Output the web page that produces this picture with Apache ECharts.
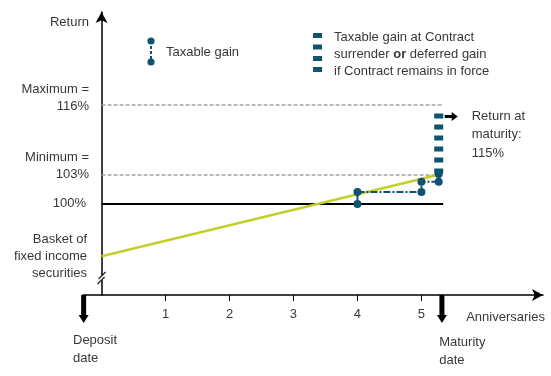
<!DOCTYPE html>
<html><head><meta charset="utf-8">
<script src="https://cdn.jsdelivr.net/npm/echarts@6/dist/echarts.min.js"></script>
<style>html,body{margin:0;padding:0;background:#fff}#c{width:551px;height:376px}</style>
</head><body><div id="c"></div>
<script>
// ---- data ----
const anniversaryTicks = [1, 2, 3, 4, 5];
const levelMax = 116;          // Maximum = 116%
const levelMin = 103;          // Minimum = 103%
const levelBase = 100;         // 100%
const returnAtMaturity = 115;  // Return at maturity: 115%
const depositYear = -0.29;
const maturityYear = 5.34;
const basketLine = [[0, 94.6], [5.28, 103.1]];
const gainYear4 = [[4, 100], [4, 101.25]];
const carryYear4to5 = [[4, 101.25], [5, 101.25]];
const gainYear5 = [[5, 101.25], [5, 102.3]];
const carryYear5toMat = [[5, 102.3], [5.27, 102.3]];
const gainAtMat = [[5.27, 102.3], [5.27, 103.2]];
const deferredColumn = [[5.27, returnAtMaturity], [5.27, 103.2]];

// ---- style ----
const FONT = 'Liberation Sans';
const TXT = '#383838';
const TEAL = '#0e5470';
const GREEN = '#c3d02c';
const GREY = '#a3a3a3';
const Y_MIN = 90.59, Y_MAX = 119.86, X_MAX = 6.9;

// schematic (compressed) scale above the minimum level
function pos(v) { return v <= 103 ? v : 103 + (v - 103) * 7.24 / 13; }
const mapPts = pts => pts.map(p => [p[0], pos(p[1])]);

const chart = echarts.init(document.getElementById('c'), null, {renderer: 'canvas'});

function seg(data, lineStyle, opts) {
  return Object.assign({
    type: 'line', data: mapPts(data), symbol: 'none', symbolSize: 8,
    lineStyle: lineStyle, itemStyle: {color: TEAL}, silent: true, animation: false, z: 3
  }, opts || {});
}

const option = {
  animation: false,
  grid: {left: 83, right: 8, top: 12, bottom: 81, containLabel: false},
  xAxis: {
    type: 'value', min: depositYear, max: X_MAX,
    axisLine: {show: true, onZero: false, symbol: ['none', 'arrow'], symbolSize: [9, 11],
      lineStyle: {color: '#000', width: 1.5}},
    axisTick: {show: true, inside: false, customValues: anniversaryTicks, length: 6, lineStyle: {color: '#000', width: 1}},
    axisLabel: {show: true, customValues: anniversaryTicks, margin: 13, color: TXT, fontSize: 13, fontFamily: FONT},
    splitLine: {show: false}
  },
  yAxis: {
    type: 'value', min: Y_MIN, max: Y_MAX,
    axisLine: {show: true, onZero: true, symbol: ['none', 'arrow'], symbolSize: [9, 11],
      lineStyle: {color: '#000', width: 1.5}},
    axisTick: {show: false}, axisLabel: {show: false}, splitLine: {show: false}
  },
  series: [
    seg([[0, levelMax], [maturityYear, levelMax]], {color: GREY, width: 1.5, type: [4, 2]}, {z: 1}),
    seg([[0, levelMin], [maturityYear, levelMin]], {color: GREY, width: 1.5, type: [4, 2]}, {z: 1}),
    seg([[0, levelBase], [maturityYear, levelBase]], {color: '#000', width: 2.2, type: 'solid'}, {z: 1}),
    seg(basketLine, {color: GREEN, width: 2.5}, {z: 2}),
    seg(deferredColumn, {color: TEAL, width: 9, type: [5, 6], cap: 'butt', dashOffset: -3}, {z: 3}),
    seg(carryYear4to5, {color: TEAL, width: 2, type: [7, 2, 2, 2]}),
    seg(carryYear5toMat, {color: TEAL, width: 2, type: [4, 2, 2, 2]}),
    seg(gainYear4, {color: TEAL, width: 2}, {symbol: 'circle', z: 4}),
    seg(gainYear5, {color: TEAL, width: 2, type: [2, 2]}, {symbol: 'circle', z: 4}),
    seg(gainAtMat, {color: TEAL, width: 2, type: [2, 2]}, {symbol: 'circle', z: 4})
  ]
};
chart.setOption(option);

// ---- annotations positioned from the axes ----
const raw = (x, y) => chart.convertToPixel({gridIndex: 0}, [x, y]);
const px = (x, y) => raw(x, pos(y));
const T = (text, x, y, align, extra) => ({
  type: 'text', x: x, y: y, silent: true,
  style: Object.assign({text: text, fill: TXT, font: '13px "' + FONT + '"', align: align || 'left', verticalAlign: 'middle'}, extra || {})
});
const g = [];
const labelX = 89;
const yMaxPx = px(0, levelMax)[1], yMinPx = px(0, levelMin)[1], yBasePx = px(0, levelBase)[1];
const axisTop = raw(0, Y_MAX)[1];
g.push(T('Return', labelX, axisTop + 10, 'right'));
g.push(T('Maximum =', labelX, yMaxPx - 16, 'right'));
g.push(T('116%', labelX, yMaxPx + 1, 'right'));
g.push(T('Minimum =', labelX, yMinPx - 18, 'right'));
g.push(T('103%', labelX, yMinPx - 1, 'right'));
g.push(T('100%', 86, yBasePx - 1, 'right'));
const basketPx = px(0, basketLine[0][1]);
g.push(T('Basket of', 87, basketPx[1] - 17, 'right'));
g.push(T('fixed income', 87, basketPx[1], 'right'));
g.push(T('securities', 87, basketPx[1] + 17, 'right'));

// axis break
const axisBottom = raw(0, Y_MIN);
const bx = axisBottom[0], by = axisBottom[1] - 16;
g.push({type: 'rect', shape: {x: bx - 2, y: by - 3, width: 4, height: 4}, style: {fill: '#fff'}, silent: true, z: 10});
g.push({type: 'line', shape: {x1: bx - 4, y1: by + 5, x2: bx + 3, y2: by - 2}, style: {stroke: '#222', lineWidth: 1.2}, silent: true, z: 11});
g.push({type: 'line', shape: {x1: bx - 3, y1: by + 0, x2: bx + 4, y2: by - 7}, style: {stroke: '#222', lineWidth: 1.2}, silent: true, z: 11});

// deposit / maturity arrows
function downArrow(xv) {
  const p = raw(xv, Y_MIN);
  const x = p[0], y = p[1];
  return {type: 'polygon', silent: true, z: 10,
    shape: {points: [[x - 2.5, y], [x + 2.5, y], [x + 2.5, y + 20], [x + 5, y + 20], [x, y + 28], [x - 5, y + 20], [x - 2.5, y + 20]]},
    style: {fill: '#000'}};
}
g.push(downArrow(depositYear + 0.01));
g.push(downArrow(maturityYear - 0.02));
const depPx = raw(depositYear, Y_MIN);
const matPx = raw(maturityYear, Y_MIN);
g.push(T('Deposit', depPx[0] - 10, depPx[1] + 45, 'left'));
g.push(T('date', depPx[0] - 10, depPx[1] + 63, 'left'));
g.push(T('Maturity', matPx[0] - 4, matPx[1] + 47, 'left'));
g.push(T('date', matPx[0] - 4, matPx[1] + 65, 'left'));
g.push(T('Anniversaries', matPx[0] + 23, matPx[1] + 22, 'left'));

// return at maturity arrow + label
const colTop = px(deferredColumn[0][0], returnAtMaturity);
const ay = colTop[1] + 6;
const ax = colTop[0] + 6;
g.push({type: 'polygon', silent: true, z: 10,
  shape: {points: [[ax, ay - 1.5], [ax + 7, ay - 1.5], [ax + 7, ay - 4.5], [ax + 13, ay], [ax + 7, ay + 4.5], [ax + 7, ay + 1.5], [ax, ay + 1.5]]},
  style: {fill: '#000'}});
g.push(T('Return at', ax + 27, ay, 'left'));
g.push(T('maturity:', ax + 27, ay + 18.5, 'left'));
g.push(T(returnAtMaturity + '%', ax + 27, ay + 37, 'left'));

// legend 1: taxable gain
g.push({type: 'line', shape: {x1: 151, y1: 41, x2: 151, y2: 62}, style: {stroke: TEAL, lineWidth: 2, lineDash: [3, 2]}, silent: true});
g.push({type: 'circle', shape: {cx: 151, cy: 41, r: 3.6}, style: {fill: TEAL}, silent: true});
g.push({type: 'circle', shape: {cx: 151, cy: 62, r: 3.6}, style: {fill: TEAL}, silent: true});
g.push(T('Taxable gain', 166, 52, 'left'));
// legend 2: deferred gain
[33, 44.5, 56, 67].forEach(function (yy) {
  g.push({type: 'rect', shape: {x: 313, y: yy, width: 9, height: 5}, style: {fill: TEAL}, silent: true});
});
g.push(T('Taxable gain at Contract', 334, 37, 'left'));
g.push({type: 'text', x: 334, y: 54, silent: true, style: {
  text: 'surrender {b|or} deferred gain', fill: TXT, font: '13px "' + FONT + '"', verticalAlign: 'middle',
  rich: {b: {fontWeight: 'bold', fontSize: 13, fontFamily: FONT, fill: TXT}}}});
g.push(T('if Contract remains in force', 334, 71, 'left'));

chart.setOption({graphic: g});
</script>
</body></html>
